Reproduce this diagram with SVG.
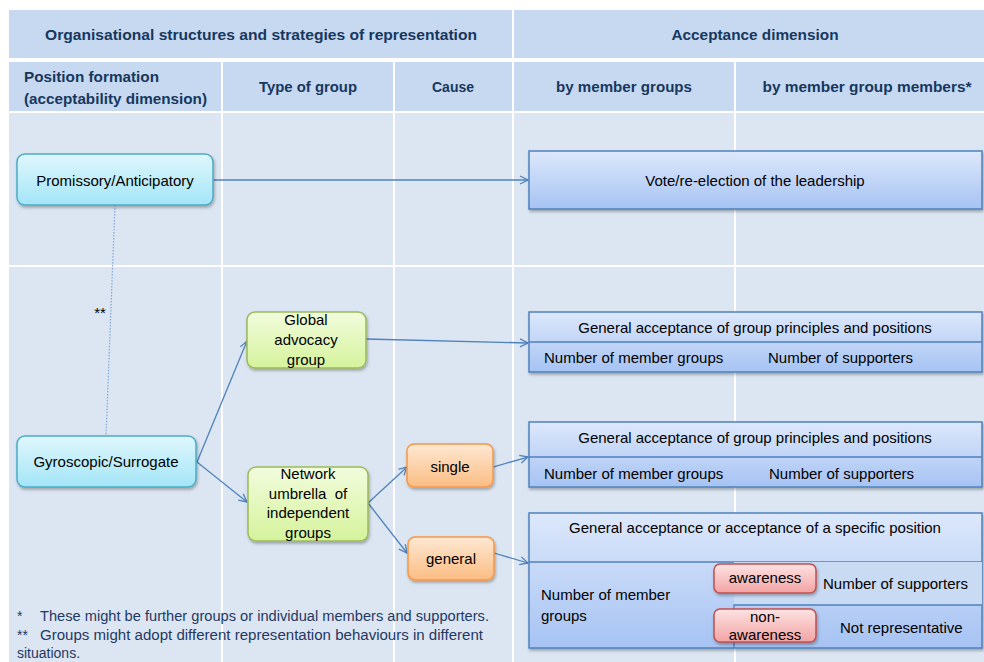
<svg xmlns="http://www.w3.org/2000/svg" width="984" height="662" viewBox="0 0 984 662">
<defs>
<linearGradient id="gCyan" x1="0" y1="0" x2="0" y2="1"><stop offset="0" stop-color="#e0f7fd"/><stop offset="1" stop-color="#a3e5f7"/></linearGradient>
<linearGradient id="gBlue" x1="0" y1="0" x2="0" y2="1"><stop offset="0" stop-color="#dde8fb"/><stop offset="1" stop-color="#a6c3f3"/></linearGradient>
<linearGradient id="gGreen" x1="0" y1="0" x2="0" y2="1"><stop offset="0" stop-color="#f2fcdd"/><stop offset="1" stop-color="#d5f39c"/></linearGradient>
<linearGradient id="gOrange" x1="0" y1="0" x2="0" y2="1"><stop offset="0" stop-color="#fee8d2"/><stop offset="1" stop-color="#fbbd83"/></linearGradient>
<linearGradient id="gRed" x1="0" y1="0" x2="0" y2="1"><stop offset="0" stop-color="#fde3e3"/><stop offset="1" stop-color="#f3a3a3"/></linearGradient>
<filter id="sh" x="-10%" y="-10%" width="120%" height="130%"><feDropShadow dx="1" dy="2" stdDeviation="1.5" flood-color="#000" flood-opacity="0.3"/></filter>
<marker id="arr" viewBox="0 0 10 10" refX="9" refY="5" markerWidth="10" markerHeight="10" markerUnits="userSpaceOnUse" orient="auto"><path d="M1,1 L9,5 L1,9" fill="none" stroke="#4f81bd" stroke-width="1.3"/></marker>
<style>
.hd{fill:#c6d9f0}
.bd{fill:#dce6f2}
.ht{font-family:"Liberation Sans",Arial,sans-serif;font-weight:bold;font-size:15px;fill:#17375e}
.t{font-family:"Liberation Sans",Arial,sans-serif;font-size:15px;fill:#000}
.fn{font-family:"Liberation Sans",Arial,sans-serif;font-size:14px;fill:#1f3864}
.c{text-anchor:middle}
.con{fill:none;stroke:#4f81bd;stroke-width:1.3;marker-end:url(#arr)}
.cyan{fill:url(#gCyan);stroke:#4bacc6;stroke-width:1.5}
.blue{fill:url(#gBlue);stroke:#4f81bd;stroke-width:1.5}
.green{fill:url(#gGreen);stroke:#9bbb59;stroke-width:1.5}
.orange{fill:url(#gOrange);stroke:#f79646;stroke-width:1.5}
.red{fill:url(#gRed);stroke:#c0504d;stroke-width:1.5}
</style>
</defs>
<rect width="984" height="662" fill="#fff"/>
<g id="table">
<rect class="hd" x="9" y="10" width="503" height="48"/>
<rect class="hd" x="514" y="10" width="470" height="48"/>
<rect class="hd" x="9" y="62" width="212" height="49"/>
<rect class="hd" x="223" y="62" width="170" height="49"/>
<rect class="hd" x="395" y="62" width="117" height="49"/>
<rect class="hd" x="514" y="62" width="220" height="49"/>
<rect class="hd" x="736" y="62" width="248" height="49"/>
<rect class="bd" x="9" y="113" width="212" height="152"/>
<rect class="bd" x="223" y="113" width="170" height="152"/>
<rect class="bd" x="395" y="113" width="117" height="152"/>
<rect class="bd" x="514" y="113" width="220" height="152"/>
<rect class="bd" x="736" y="113" width="248" height="152"/>
<rect class="bd" x="9" y="267" width="212" height="395"/>
<rect class="bd" x="223" y="267" width="170" height="395"/>
<rect class="bd" x="395" y="267" width="117" height="395"/>
<rect class="bd" x="514" y="267" width="220" height="395"/>
<rect class="bd" x="736" y="267" width="248" height="395"/>
<text class="ht c" x="261" y="40" textLength="432" lengthAdjust="spacingAndGlyphs">Organisational structures and strategies of representation</text>
<text class="ht c" x="755" y="40" textLength="167" lengthAdjust="spacingAndGlyphs">Acceptance dimension</text>
<text class="ht" x="24" y="82" textLength="135" lengthAdjust="spacingAndGlyphs">Position formation</text>
<text class="ht" x="24" y="104" textLength="183" lengthAdjust="spacingAndGlyphs">(acceptability dimension)</text>
<text class="ht c" x="308" y="92" textLength="98" lengthAdjust="spacingAndGlyphs">Type of group</text>
<text class="ht c" x="453" y="92" textLength="42" lengthAdjust="spacingAndGlyphs">Cause</text>
<text class="ht c" x="624" y="92" textLength="136" lengthAdjust="spacingAndGlyphs">by member groups</text>
<text class="ht c" x="867" y="92" textLength="209" lengthAdjust="spacingAndGlyphs">by member group members*</text>
</g>
<g id="connectors">
<path d="M115,205 L106,436" fill="none" stroke="#7ea6d8" stroke-width="1.2" stroke-dasharray="1.5,1.5"/>
<text x="100" y="318" class="t c" font-size="11" fill="#333">**</text>
<path class="con" d="M213,180 L528,180"/>
<path class="con" d="M197,462 L247,341"/>
<path class="con" d="M197,462 L247,502"/>
<path class="con" d="M366,339 L528,343"/>
<path class="con" d="M368,503 L407,467"/>
<path class="con" d="M368,503 L407,553"/>
<path class="con" d="M493,467 L528,457"/>
<path class="con" d="M494,553 L528,563"/>
</g>
<g id="promissory">
<rect class="cyan" x="17" y="154" width="196" height="51" rx="8" filter="url(#sh)"/>
<text class="t c" x="115" y="186">Promissory/Anticipatory</text>
</g>
<g id="gyroscopic">
<rect class="cyan" x="17" y="436" width="179" height="51" rx="8" filter="url(#sh)"/>
<text class="t c" x="106" y="467">Gyroscopic/Surrogate</text>
</g>
<g id="global">
<rect class="green" x="247" y="312" width="119" height="56" rx="8" filter="url(#sh)"/>
<text class="t c" x="306" y="325">Global</text>
<text class="t c" x="306" y="345">advocacy</text>
<text class="t c" x="306" y="365">group</text>
</g>
<g id="network">
<rect class="green" x="248" y="467" width="120" height="74" rx="8" filter="url(#sh)"/>
<text class="t c" x="308" y="479">Network</text>
<text class="t c" x="308" y="499" style="white-space:pre">umbrella  of</text>
<text class="t c" x="308" y="518">independent</text>
<text class="t c" x="308" y="538">groups</text>
</g>
<g id="single">
<rect class="orange" x="407" y="444" width="86" height="43" rx="7" filter="url(#sh)"/>
<text class="t c" x="450" y="472">single</text>
</g>
<g id="general">
<rect class="orange" x="408" y="537" width="86" height="43" rx="7" filter="url(#sh)"/>
<text class="t c" x="451" y="564">general</text>
</g>
<g id="vote">
<rect class="blue" x="529" y="151" width="453" height="58" filter="url(#sh)"/>
<text class="t c" x="755" y="186">Vote/re-election of the leadership</text>
</g>
<g id="accept1">
<rect class="blue" x="529" y="312" width="453" height="60" filter="url(#sh)"/>
<line x1="529" y1="342" x2="982" y2="342" stroke="#4f81bd" stroke-width="1.3"/>
<text class="t c" x="755" y="333">General acceptance of group principles and positions</text>
<text class="t" x="544" y="363">Number of member groups</text>
<text class="t" x="768" y="363">Number of supporters</text>
</g>
<g id="accept2">
<rect class="blue" x="529" y="422" width="453" height="65" filter="url(#sh)"/>
<line x1="529" y1="457" x2="982" y2="457" stroke="#4f81bd" stroke-width="1.3"/>
<text class="t c" x="755" y="443">General acceptance of group principles and positions</text>
<text class="t" x="544" y="479">Number of member groups</text>
<text class="t" x="769" y="479">Number of supporters</text>
</g>
<g id="accept3">
<rect class="blue" x="529" y="513" width="453" height="135" filter="url(#sh)"/>
<line x1="529" y1="562" x2="982" y2="562" stroke="#4f81bd" stroke-width="1.3"/>
<rect x="734" y="562" width="248" height="43" fill="#c9daf3"/>
<path d="M734,648 L734,605 L982,605" fill="none" stroke="#4f81bd" stroke-width="1.3"/>
<text class="t c" x="755" y="533">General acceptance or acceptance of a specific position</text>
<text class="t" x="541" y="600">Number of member</text>
<text class="t" x="541" y="621">groups</text>
<text class="t" x="823" y="589">Number of supporters</text>
<text class="t" x="840" y="633">Not representative</text>
</g>
<g id="awareness">
<rect class="red" x="714" y="564" width="102" height="29" rx="6" filter="url(#sh)"/>
<text class="t c" x="765" y="583" font-size="13.5">awareness</text>
</g>
<g id="nonawareness">
<rect class="red" x="714" y="609" width="102" height="33" rx="6" filter="url(#sh)"/>
<text class="t c" x="765" y="622" font-size="13.5">non-</text>
<text class="t c" x="765" y="640" font-size="13.5">awareness</text>
</g>
<g id="footnotes">
<text class="fn" x="17" y="621">*</text>
<text class="fn" x="40" y="621" textLength="449" lengthAdjust="spacingAndGlyphs">These might be further groups or individual members and supporters.</text>
<text class="fn" x="17" y="640">**</text>
<text class="fn" x="40" y="640" textLength="443" lengthAdjust="spacingAndGlyphs">Groups might adopt different  representation behaviours in different</text>
<text class="fn" x="17" y="658">situations.</text>
</g>
</svg>
